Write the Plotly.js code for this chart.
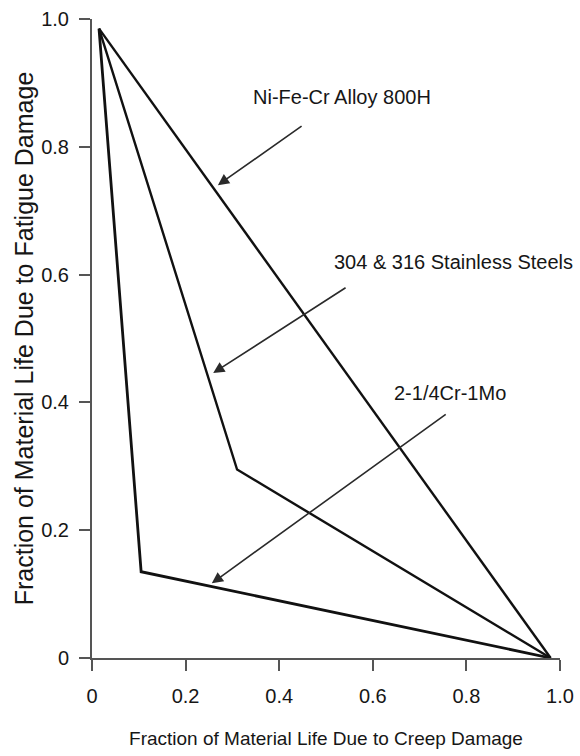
<!DOCTYPE html>
<html>
<head>
<meta charset="utf-8">
<script src="https://cdn.plot.ly/plotly-3.0.1.min.js"></script>
<style>
  html, body { margin: 0; padding: 0; background: #fff; }
  #chart { width: 580px; height: 756px; }
</style>
</head>
<body>
<div id="chart"></div>
<script>
// Series (creep fraction x, fatigue fraction y)
var alloy800H_x = [0.015, 0.98];
var alloy800H_y = [0.985, 0.0];

var stainless_x = [0.015, 0.31, 0.98];
var stainless_y = [0.985, 0.295, 0.0];

var crMo_x = [0.015, 0.105, 0.98];
var crMo_y = [0.985, 0.135, 0.0];

// Labels
var seriesNames = ["Ni-Fe-Cr Alloy 800H", "304 & 316 Stainless Steels", "2-1/4Cr-1Mo"];
// label anchor positions (data units)
var labelX = [0.534, 0.512, 0.765];
var labelY = [0.878, 0.620, 0.415];
var labelAnchor = ["center", "left", "center"];
// arrow tail and tip (data units)
var arrowTailX = [0.451, 0.545, 0.759];
var arrowTailY = [0.834, 0.581, 0.383];
var arrowTipX = [0.269, 0.259, 0.256];
var arrowTipY = [0.740, 0.446, 0.117];

var tickVals = [0, 0.2, 0.4, 0.6, 0.8, 1.0];
var xTickText = ["0", "0.2", "0.4", "0.6", "0.8", "1.0"];
var yTickText = ["0", "0.2", "0.4", "0.6", "0.8", "1.0"];

var xTitle = "Fraction of Material Life Due to Creep Damage";
var yTitle = "Fraction of Material Life Due to Fatigue Damage";

var sans = "Liberation Sans, Arial, sans-serif";
var ink = "#161616";

function lineTrace(x, y, name, w) {
  return {
    x: x, y: y, name: name, type: "scatter", mode: "lines",
    line: { color: "#111", width: w },
    hoverinfo: "skip", cliponaxis: false
  };
}

var traces = [
  lineTrace(alloy800H_x, alloy800H_y, seriesNames[0], 2.4),
  lineTrace(stainless_x, stainless_y, seriesNames[1], 2.4),
  lineTrace(crMo_x, crMo_y, seriesNames[2], 2.8)
];

var annotations = [];
for (var i = 0; i < seriesNames.length; i++) {
  annotations.push({
    x: labelX[i], y: labelY[i], xref: "x", yref: "y",
    text: seriesNames[i], showarrow: false,
    xanchor: labelAnchor[i], yanchor: "middle",
    font: { family: sans, size: 20, color: ink }
  });
  annotations.push({
    x: arrowTipX[i], y: arrowTipY[i], xref: "x", yref: "y",
    ax: arrowTailX[i], ay: arrowTailY[i], axref: "x", ayref: "y",
    text: "", showarrow: true, arrowhead: 2, arrowsize: 1.4,
    arrowwidth: 1.6, arrowcolor: "#2a2a2a", standoff: 0, startstandoff: 0
  });
}

var layout = {
  width: 580, height: 756,
  margin: { l: 92, r: 20, t: 19, b: 98 },
  paper_bgcolor: "#fff", plot_bgcolor: "#fff",
  showlegend: false,
  xaxis: {
    range: [0, 1.0], tickvals: tickVals, ticktext: xTickText,
    ticks: "outside", ticklen: 11, tickwidth: 2, tickcolor: "#555",
    showline: true, linecolor: "#555", linewidth: 2,
    showgrid: false, zeroline: false, ticklabelstandoff: 8,
    tickfont: { family: sans, size: 20, color: ink },
    title: { text: xTitle, font: { family: sans, size: 19, color: ink }, standoff: 26 }
  },
  yaxis: {
    range: [0, 1.0], tickvals: tickVals, ticktext: yTickText,
    ticks: "outside", ticklen: 11, tickwidth: 2, tickcolor: "#555",
    showline: true, linecolor: "#555", linewidth: 2,
    showgrid: false, zeroline: false, ticklabelstandoff: 6,
    tickfont: { family: sans, size: 20, color: ink },
    title: { text: yTitle, font: { family: sans, size: 25, color: ink }, standoff: 0 }
  },
  annotations: annotations
};

Plotly.newPlot("chart", traces, layout, { displayModeBar: false, staticPlot: true });
</script>
</body>
</html>
